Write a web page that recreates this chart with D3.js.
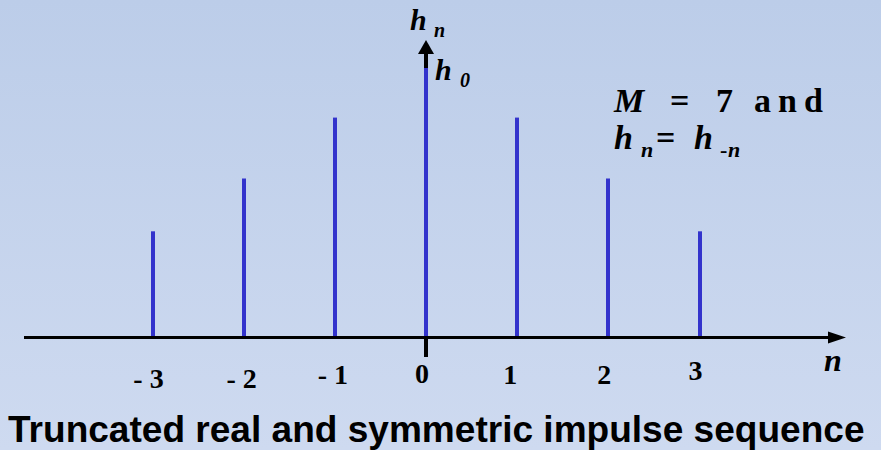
<!DOCTYPE html>
<html>
<head>
<meta charset="utf-8">
<script src="https://cdn.jsdelivr.net/npm/d3@7"></script>
<style>
  html, body { margin: 0; padding: 0; }
  svg { display: block; }
</style>
</head>
<body>
<svg id="chart" width="881" height="450"></svg>
<script>
// Sample indices and the (symmetric) truncated impulse response, h0 = 1
const indices = [-3, -2, -1, 0, 1, 2, 3];
const hValues = [0.394, 0.59, 0.816, 1.0, 0.816, 0.59, 0.394];
const tickLabels = ["-3", "-2", "-1", "0", "1", "2", "3"];
const titleText = "Truncated real and symmetric impulse sequence";

const W = 881, H = 450;
const svg = d3.select("#chart");
const serif = "Liberation Serif, Times New Roman, Times, serif";

// background gradient
const defs = svg.append("defs");
const grad = defs.append("linearGradient").attr("id", "bg")
  .attr("x1", 0).attr("y1", 0).attr("x2", 0).attr("y2", 1);
grad.append("stop").attr("offset", "0%").attr("stop-color", "#bccde9");
grad.append("stop").attr("offset", "100%").attr("stop-color", "#cedaf0");
svg.append("rect").attr("width", W).attr("height", H).attr("fill", "url(#bg)");

const x = d3.scaleLinear().domain([-3, 3]).range([152.5, 699.5]);
const y = d3.scaleLinear().domain([0, 1]).range([337.5, 68]);
const x0 = Math.round(x(0));

// horizontal axis with arrow
svg.append("line")
  .attr("x1", 24).attr("x2", 832)
  .attr("y1", y(0)).attr("y2", y(0))
  .attr("stroke", "#000").attr("stroke-width", 3);
svg.append("path")
  .attr("d", `M846,${y(0)} L828,${y(0) - 6} L828,${y(0) + 6} Z`)
  .attr("fill", "#000");

// vertical axis with arrow
svg.append("line")
  .attr("x1", x0).attr("x2", x0)
  .attr("y1", 357).attr("y2", 52)
  .attr("stroke", "#000").attr("stroke-width", 4);
svg.append("path")
  .attr("d", `M${x0},40 L${x0 - 8},54 L${x0 + 8},54 Z`)
  .attr("fill", "#000");

// stems
svg.append("g").selectAll("line")
  .data(indices.map((n, i) => ({ n, h: hValues[i] })))
  .join("line")
  .attr("x1", d => Math.round(x(d.n))).attr("x2", d => Math.round(x(d.n)))
  .attr("y1", y(0) - 1.5).attr("y2", d => y(d.h))
  .attr("stroke", "#3333cc").attr("stroke-width", 4);

// axis segment below the baseline
svg.append("line")
  .attr("x1", x0).attr("x2", x0)
  .attr("y1", y(0) - 1).attr("y2", 357)
  .attr("stroke", "#000").attr("stroke-width", 4);

// tick labels
const labelDx = [-4, -2, -2, -4, -7, -4, -4];
const labelY = [388, 388, 384, 383, 384, 384, 380];
svg.append("g").selectAll("text")
  .data(tickLabels)
  .join("text")
  .attr("x", (d, i) => x(indices[i]) + labelDx[i])
  .attr("y", (d, i) => labelY[i])
  .attr("text-anchor", "middle")
  .attr("font-family", serif).attr("font-weight", "bold").attr("font-size", 28)
  .attr("fill", "#000")
  .attr("xml:space", "preserve")
  .text(d => d.replace("-", "- "));

// axis name n
svg.append("text")
  .attr("x", 824).attr("y", 371)
  .attr("font-family", serif).attr("font-weight", "bold").attr("font-style", "italic")
  .attr("font-size", 32).text("n");

function hLabel(px, py, sub, subX) {
  const t = svg.append("text")
    .attr("x", px).attr("y", py)
    .attr("font-family", serif).attr("font-weight", "bold").attr("font-style", "italic")
    .attr("font-size", 30).attr("fill", "#000");
  t.append("tspan").text("h");
  t.append("tspan").attr("x", subX).attr("dy", 7).attr("font-size", 20).text(sub);
  return t;
}
hLabel(410, 30, "n", 434);
hLabel(435, 80, "0", 460);

// annotation
const ann1 = svg.append("text")
  .attr("y", 112)
  .attr("font-family", serif).attr("font-weight", "bold")
  .attr("font-size", 34).attr("fill", "#000");
ann1.append("tspan").attr("x", 614).attr("font-style", "italic").text("M");
ann1.append("tspan").attr("x", 670).text("=");
ann1.append("tspan").attr("x", 716).text("7");
ann1.append("tspan").attr("x", 754).attr("letter-spacing", 7).text("and");

const ann2 = svg.append("text")
  .attr("y", 149)
  .attr("font-family", serif).attr("font-weight", "bold")
  .attr("font-size", 34).attr("fill", "#000");
ann2.append("tspan").attr("x", 614).attr("font-style", "italic").text("h");
ann2.append("tspan").attr("x", 641).attr("font-style", "italic").attr("dy", 8).attr("font-size", 22).text("n");
ann2.append("tspan").attr("x", 656).attr("dy", -8).text("=");
ann2.append("tspan").attr("x", 694).attr("font-style", "italic").text("h");
ann2.append("tspan").attr("x", 720).attr("dy", 8).attr("font-size", 22).text("-");
ann2.append("tspan").attr("x", 728).attr("font-style", "italic").attr("font-size", 22).text("n");

// title
const title = svg.append("text")
  .attr("x", 8).attr("y", 442)
  .attr("font-family", "Liberation Sans, Arial, Helvetica, sans-serif")
  .attr("font-weight", "bold").attr("font-size", 34)
  .attr("fill", "#000")
  .text(titleText);
const tw = title.node().getComputedTextLength();
title.attr("font-size", 34 * 857 / tw);
</script>
</body>
</html>
